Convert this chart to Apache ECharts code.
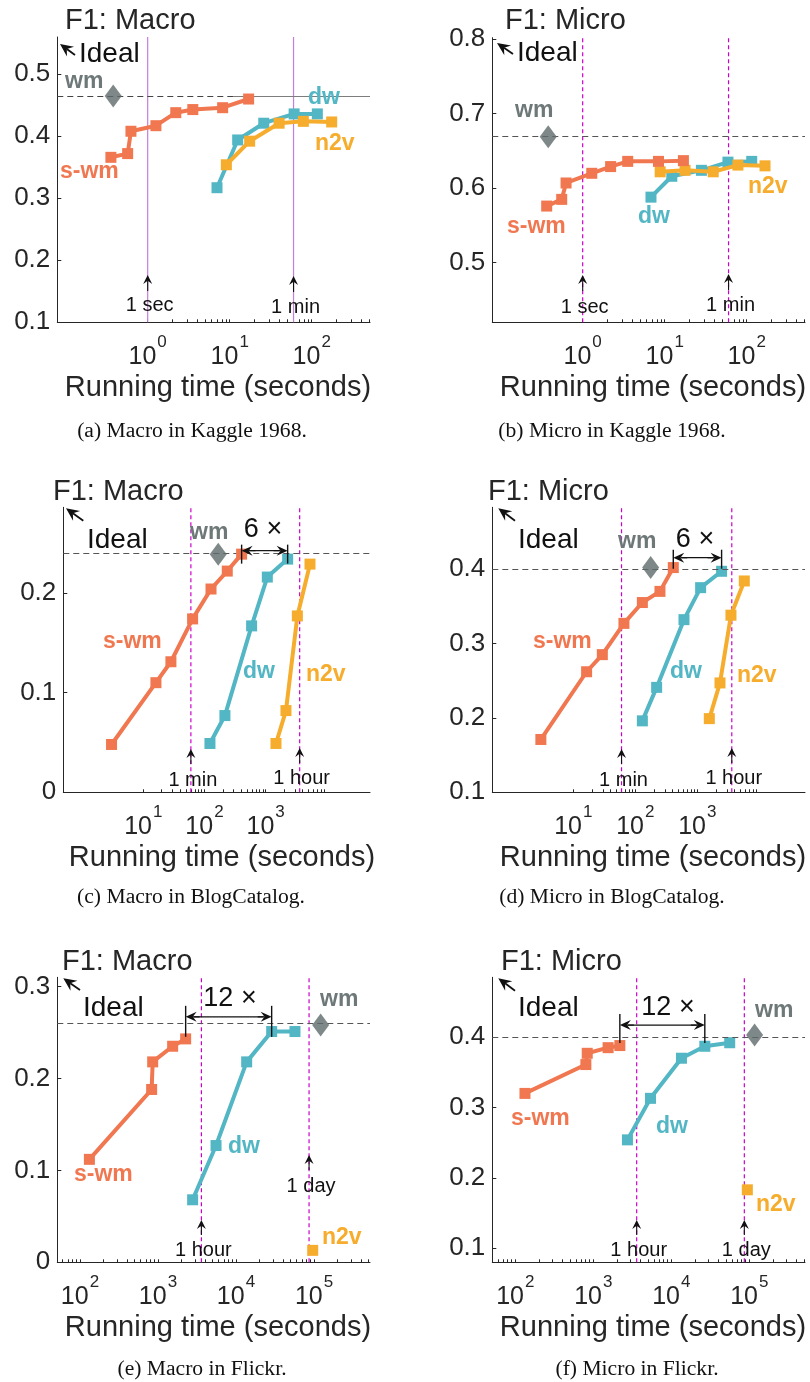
<!DOCTYPE html>
<html><head><meta charset="utf-8">
<script src="https://cdn.jsdelivr.net/npm/echarts@6/dist/echarts.min.js"></script>
<style>html,body{margin:0;padding:0;background:#fff}#c{width:810px;height:1382px}</style>
</head><body><div id="c"></div>
<script>
// ---------------- DATA (time in seconds, F1 score) ----------------
// (a) Macro in Kaggle 1968
const aSwm = [[0.356,0.366],[0.57,0.372],[0.625,0.408],[1.26,0.417],[2.2,0.438],[3.55,0.443],[8.2,0.446],[17,0.460]];
const aDw  = [[7.0,0.317],[12.5,0.394],[26,0.421],[61,0.436],[117,0.436]];
const aN2v = [[9.1,0.354],[17.5,0.392],[40,0.421],[79,0.424],[175,0.423]];
const aWm  = [[0.38,0.465]];
// (b) Micro in Kaggle 1968
const bSwm = [[0.364,0.576],[0.555,0.585],[0.627,0.607],[1.29,0.620],[2.19,0.629],[3.54,0.636],[8.4,0.636],[16.9,0.637]];
const bDw  = [[6.8,0.588],[12.2,0.616],[28,0.624],[59,0.635],[115,0.636]];
const bN2v = [[8.8,0.622],[17.7,0.624],[39,0.622],[78,0.631],[167,0.630]];
const bWm  = [[0.38,0.669]];
// (c) Macro in BlogCatalog
const cSwm = [[3.03,0.048],[16.1,0.110],[28.3,0.131],[64,0.174],[128,0.204],[236,0.222],[405,0.239]];
const cDw  = [[123,0.049],[216,0.077],[590,0.167],[1065,0.216],[2290,0.234]];
const cN2v = [[1476,0.049],[2150,0.082],[3300,0.177],[5310,0.229]];
const cWm  = [[168,0.239]];
// (d) Micro in BlogCatalog
const dSwm = [[3.0,0.171],[16.4,0.262],[29.4,0.285],[65.6,0.327],[130,0.355],[250,0.370],[410,0.402]];
const dDw  = [[130,0.196],[221,0.241],[610,0.332],[1132,0.375],[2466,0.397]];
const dN2v = [[1563,0.199],[2323,0.247],[3490,0.338],[5730,0.384]];
const dWm  = [[177,0.402]];
// (e) Macro in Flickr
const eSwm = [[132,0.112],[829,0.188],[855,0.218],[1541,0.235],[2263,0.243]];
const eDw  = [[2780,0.068],[5546,0.127],[13700,0.218],[28650,0.251],[57000,0.251]];
const eN2v = [[96200,0.013]];
const eWm  = [[121700,0.258]];
// (f) Micro in Flickr
const fSwm = [[133,0.320],[803,0.361],[836,0.377],[1548,0.385],[2190,0.388]];
const fDw  = [[2740,0.254],[5410,0.313],[13500,0.370],[26900,0.387],[56100,0.392]];
const fN2v = [[94400,0.183]];
const fWm  = [[117000,0.403]];

// ideal (wm) level, reference time lines and their labels
const idealLevels = [0.465, 0.669, 0.2385, 0.4018, 0.2583, 0.4043];
const refTimesA = [1, 60], refTimesC = [60, 3600], refTimesE = [3600, 86400];
const refLabelsA = ['1 sec', '1 min'], refLabelsC = ['1 min', '1 hour'], refLabelsE = ['1 hour', '1 day'];
const speedLabels = ['', '', '6 \u00d7', '6 \u00d7', '12 \u00d7', '12 \u00d7'];

// tick labels
const yTicksA = [0.1,0.2,0.3,0.4,0.5];
const yTicksB = [0.5,0.6,0.7,0.8];
const yTicksC = [0,0.1,0.2];
const yTicksD = [0.1,0.2,0.3,0.4];
const yTicksE = [0,0.1,0.2,0.3];
const yTicksF = [0.1,0.2,0.3,0.4];
const xExpAB = [0,1,2], xExpCD = [1,2,3], xExpEF = [2,3,4,5];

const titles = ['F1: Macro','F1: Micro','F1: Macro','F1: Micro','F1: Macro','F1: Micro'];
const captions = ['(a) Macro in Kaggle 1968.','(b) Micro in Kaggle 1968.','(c) Macro in BlogCatalog.','(d) Micro in BlogCatalog.','(e) Macro in Flickr.','(f) Micro in Flickr.'];
const xTitle = 'Running time (seconds)';
const seriesNames = {swm:'s-wm', dw:'dw', n2v:'n2v', wm:'wm'};

// ---------------- LAYOUT / STYLE ----------------
const SANS = '"Liberation Sans", Arial, Helvetica, sans-serif';
const SERIF = '"Liberation Serif", "Times New Roman", serif';
const INK = '#262626';
const COL = {swm:'#F0774F', dw:'#52B6C4', n2v:'#F6AC2D', wm:'#5F6A6A', wmText:'#6E7878'};

const panels = [
 {data:{swm:aSwm,dw:aDw,n2v:aN2v,wm:aWm}, level:idealLevels[0], refs:refTimesA, refLabels:refLabelsA,
  grid:[57.3,37,312.7,285.3], x:[0.0791,513], y:[0.1,0.56], yTicks:yTicksA, xExp:xExpAB, minorExp:[0,2],
  vSolid:true, title:[65,21], caption:[192,431], xname:[218,388],
  lab:{swm:[60,172], dw:[308,98], n2v:[315,144], wm:[65,82]},
  idealArrow:{tip:[60,44], tail:[75,55], text:[79,54]},
  marks:[{tip:275,tail:291,text:305},{tip:276,tail:292,text:307}]},
 {data:{swm:bSwm,dw:bDw,n2v:bN2v,wm:bWm}, level:idealLevels[1], refs:refTimesA, refLabels:refLabelsA,
  grid:[492.3,37.7,312.7,284.6], x:[0.0791,513], y:[0.42,0.802], yTicks:yTicksB, xExp:xExpAB, minorExp:[0,2],
  title:[505,21], caption:[612,431], xname:[653,388],
  lab:{swm:[507,227], dw:[638,217], n2v:[748,187], wm:[515,111]},
  idealArrow:{tip:[497,43], tail:[513,54], text:[517,53]},
  marks:[{tip:275,tail:291,text:307},{tip:274,tail:290,text:305}]},
 {data:{swm:cSwm,dw:cDw,n2v:cN2v,wm:cWm}, level:idealLevels[2], refs:refTimesC, refLabels:refLabelsC,
  grid:[63.3,507.3,306.7,285], x:[0.493,50800], y:[0,0.286], yTicks:yTicksC, xExp:xExpCD, minorExp:[1,3],
  title:[53,492], caption:[191,897], xname:[222,858],
  lab:{swm:[103,642], dw:[243,672], n2v:[306,675], wm:[190,533]},
  idealArrow:{tip:[66,508.3], tail:[83.3,520.7], text:[87,540]},
  marks:[{tip:749,tail:764,text:780},{tip:748,tail:763,text:778}],
  speed:{from:['swm',-1], to:['dw',-1], dy:-4, bars:[-6,13], text:[263,530]}},
 {data:{swm:dSwm,dw:dDw,n2v:dN2v,wm:dWm}, level:idealLevels[3], refs:refTimesC, refLabels:refLabelsC,
  grid:[492.3,507.3,312.7,285], x:[0.494,54600], y:[0.1,0.483], yTicks:yTicksD, xExp:xExpCD, minorExp:[1,3],
  title:[488,492], caption:[612,897], xname:[653,858],
  lab:{swm:[533,642], dw:[670,672], n2v:[737,676], wm:[618,542]},
  idealArrow:{tip:[498.3,508.3], tail:[515,520.7], text:[518,540]},
  marks:[{tip:749,tail:764,text:780},{tip:748,tail:763,text:778}],
  speed:{from:['swm',-1], to:['dw',-1], dy:-10, bars:[-8,11], text:[695,540]}},
 {data:{swm:eSwm,dw:eDw,n2v:eN2v,wm:eWm}, level:idealLevels[4], refs:refTimesE, refLabels:refLabelsE,
  grid:[57.3,977.3,312.7,285], x:[51.2,522000], y:[0,0.310], yTicks:yTicksE, xExp:xExpEF, minorExp:[1,5],
  title:[62,962], caption:[202,1369], xname:[218,1328],
  lab:{swm:[74,1175], dw:[228,1147], n2v:[322,1238], wm:[320,1000]},
  idealArrow:{tip:[63.3,978.3], tail:[80,990], text:[83,1008]},
  marks:[{tip:1220,tail:1235,text:1250},{tip:1155,tail:1170,text:1186}],
  speed:{from:['swm',-1], to:['dw',3], dy:-8, bars:[-11,20], text:[230,999]}},
 {data:{swm:fSwm,dw:fDw,n2v:fN2v,wm:fWm}, level:idealLevels[5], refs:refTimesE, refLabels:refLabelsE,
  grid:[492.3,977.3,312.7,285], x:[50.7,518000], y:[0.08,0.485], yTicks:yTicksF, xExp:xExpEF, minorExp:[1,5],
  title:[501,962], caption:[637,1369], xname:[653,1328],
  lab:{swm:[511,1119], dw:[656,1127], n2v:[756,1205], wm:[755,1011]},
  idealArrow:{tip:[498.3,978.3], tail:[515,990.7], text:[518,1008]},
  marks:[{tip:1220,tail:1235,text:1250},{tip:1220,tail:1235,text:1250}],
  speed:{from:['swm',-1], to:['dw',3], dy:-9, bars:[-11,18], text:[668,1008]}}
];

function minorTicks(lo, hi, range) {
  const v = [];
  for (let e = lo; e <= hi; e++) for (let k = 1; k <= 9; k++) {
    const t = +(k * Math.pow(10, e)).toPrecision(6);
    if (t >= range[0] && t <= range[1]) v.push(t);
  }
  return v;
}

const grids = [], xAxes = [], yAxes = [], series = [];
panels.forEach((P, i) => {
  grids.push({left:P.grid[0], top:P.grid[1], width:P.grid[2], height:P.grid[3], containLabel:false});
  xAxes.push({
    type:'log', logBase:10, gridIndex:i, min:P.x[0], max:P.x[1],
    axisLine:{show:true, onZero:false, lineStyle:{color:INK, width:1}},
    axisTick:{show:true, inside:true, length:3, customValues:minorTicks(P.minorExp[0], P.minorExp[1], P.x), lineStyle:{color:INK, width:1}},
    minorTick:{show:false}, splitLine:{show:false},
    axisLabel:{
      customValues:P.xExp.map(e => Math.pow(10, e)), margin:12, color:INK,
      formatter: v => '{b|10}{s|' + Math.round(Math.log10(v)) + '}',
      rich:{
        b:{fontSize:25, fontFamily:SANS, color:INK, padding:[10,0,0,0]},
        s:{fontSize:17, fontFamily:SANS, color:INK, padding:[0,0,18,1]}
      }
    }
  });
  yAxes.push({
    type:'value', gridIndex:i, min:P.y[0], max:P.y[1],
    axisLine:{show:true, onZero:false, lineStyle:{color:INK, width:1}},
    axisTick:{show:true, inside:true, length:4, customValues:P.yTicks, lineStyle:{color:INK}},
    splitLine:{show:false},
    axisLabel:{customValues:P.yTicks, fontSize:26, fontFamily:SANS, color:INK, margin:7,
      formatter: v => String(Math.round(v * 10) / 10)}
  });
  // reference time lines (1 sec / 1 min / 1 hour / 1 day) as vertical line series
  const vStyle = P.vSolid ? {color:'#C77DDB', width:1.2, type:'solid'} : {color:'#CC00CC', width:1.2, type:[4,3]};
  P.refs.forEach(t => {
    series.push({type:'line', xAxisIndex:i, yAxisIndex:i, data:[[t, P.y[0]], [t, P.y[1]]],
      symbol:'none', silent:true, z:2, lineStyle:vStyle, itemStyle:{color:vStyle.color}});
  });
  let idealLine, extraLine = undefined;
  if (P.vSolid) {
    idealLine = {silent:true, symbol:'none', label:{show:false}, animation:false,
      lineStyle:{color:'#444', width:1, type:[6,4]},
      data:[[{coord:[P.x[0], P.level]}, {coord:[11, P.level]}]]};
    extraLine = {silent:true, symbol:'none', label:{show:false}, animation:false,
      lineStyle:{color:'#7d7d7d', width:1.2, type:'solid'},
      data:[[{coord:[11, P.level]}, {coord:[P.x[1], P.level]}]]};
  } else {
    idealLine = {silent:true, symbol:'none', label:{show:false}, animation:false,
      lineStyle:{color:'#555', width:1, type:[6,4]}, data:[{yAxis:P.level}]};
  }
  ['dw','n2v','swm'].forEach((k, j) => {
    const s = {type:'line', name:seriesNames[k], xAxisIndex:i, yAxisIndex:i, data:P.data[k],
      symbol:'rect', symbolSize:11, showSymbol:true, showAllSymbol:true, z:3 + j,
      lineStyle:{width:4, color:COL[k]}, itemStyle:{color:COL[k]}};
    if (k === 'swm' && extraLine) s.markLine = extraLine;
    series.push(s);
  });
  series.push({type:'scatter', name:'wm', xAxisIndex:i, yAxisIndex:i, data:P.data.wm,
    symbol:'diamond', symbolSize:[17,23], z:8, itemStyle:{color:COL.wm}, markLine:idealLine});
});

const chart = echarts.init(document.getElementById('c'));
chart.setOption({animation:false, grid:grids, xAxis:xAxes, yAxis:yAxes, series:series});

// ---------------- annotations ----------------
const g = [];
function text(x, y, s, size, opt) {
  opt = opt || {};
  g.push({type:'text', x:x, y:y, z:100, silent:true, style:{
    text:s, fill:opt.fill || INK, fontSize:size, fontFamily:opt.family || SANS, fontWeight:opt.weight || 'normal',
    align:opt.align || 'left', textAlign:opt.align || 'left', verticalAlign:'middle', textVerticalAlign:'middle'}});
}
function line(x1, y1, x2, y2, w) {
  g.push({type:'line', z:100, silent:true, shape:{x1:x1,y1:y1,x2:x2,y2:y2}, style:{stroke:'#111', lineWidth:w || 1}});
}
function arrow(from, tip, len, hw, w) {
  const dx = tip[0]-from[0], dy = tip[1]-from[1], L = Math.hypot(dx, dy);
  const ux = dx/L, uy = dy/L, px = -uy, py = ux;
  const bx = tip[0]-ux*len, by = tip[1]-uy*len;
  const nx = tip[0]-ux*len*0.65, ny = tip[1]-uy*len*0.65;
  line(from[0], from[1], nx, ny, w || 1);
  g.push({type:'polygon', z:100, silent:true, shape:{points:[tip,[bx+px*hw,by+py*hw],[nx,ny],[bx-px*hw,by-py*hw]]}, style:{fill:'#111'}});
}

panels.forEach((P, i) => {
  const toPx = (d) => chart.convertToPixel({gridIndex:i}, d);
  text(P.title[0], P.title[1], titles[i], 29);
  text(P.caption[0], P.caption[1], captions[i], 21.6, {family:SERIF, align:'center', fill:'#111'});
  text(P.xname[0], P.xname[1], xTitle, 29, {align:'center'});
  ['swm','dw','n2v','wm'].forEach(k => {
    text(P.lab[k][0], P.lab[k][1], seriesNames[k], 23, {weight:'bold', fill: k === 'wm' ? COL.wmText : COL[k]});
  });
  arrow(P.idealArrow.tail, P.idealArrow.tip, 13, 6, 1.8);
  text(P.idealArrow.text[0], P.idealArrow.text[1], 'Ideal', 28, {fill:'#111'});
  P.refs.forEach((t, j) => {
    const x = toPx([t, P.y[0]])[0];
    const m = P.marks[j];
    arrow([x, m.tail], [x, m.tip], 9, 4.5, 1.1);
    text(x + 2, m.text, P.refLabels[j], 20, {align:'center', fill:'#111'});
  });
  if (P.speed) {
    const S = P.speed;
    const a = P.data[S.from[0]], b = P.data[S.to[0]];
    const pa = a[S.from[1] < 0 ? a.length + S.from[1] : S.from[1]];
    const pb = b[S.to[1] < 0 ? b.length + S.to[1] : S.to[1]];
    const x1 = toPx(pa)[0], x2 = toPx(pb)[0];
    const y = toPx([pa[0], P.level])[1] + S.dy;
    arrow([x1 + 14, y], [x1, y], 11, 5, 1.2);
    arrow([x2 - 14, y], [x2, y], 11, 5, 1.2);
    line(x1 + 8, y, x2 - 8, y, 1.2);
    line(x1, y + S.bars[0], x1, y + S.bars[1], 1.4);
    line(x2, y + S.bars[0], x2, y + S.bars[1], 1.4);
    text(S.text[0], S.text[1], speedLabels[i], 27, {align:'center', fill:'#111'});
  }
});
chart.setOption({graphic:{elements:g}});
</script></body></html>
